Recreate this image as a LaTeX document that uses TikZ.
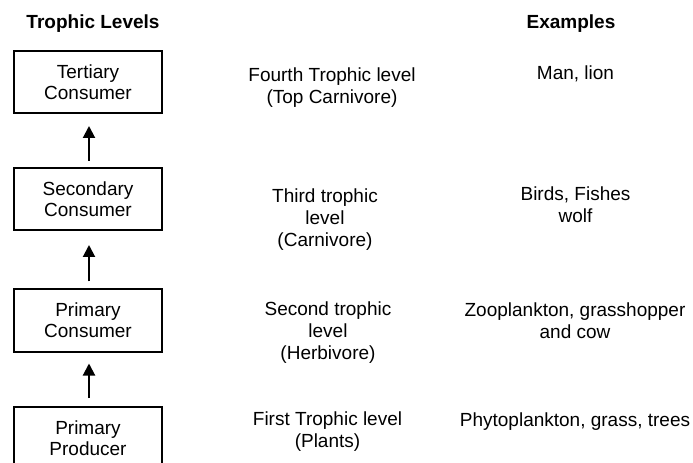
\documentclass[tikz,border=0pt]{standalone}
\usepackage{fontspec}
\setmainfont{Liberation Sans}
\usetikzlibrary{arrows.meta}
\begin{document}
\begin{tikzpicture}[x=1bp,y=-1bp,
  every node/.style={font=\fontsize{19bp}{21bp}\selectfont},
  levelbox/.style={draw=black, line width=2bp, minimum width=148bp, minimum height=62bp, inner sep=0pt, align=center, font=\fontsize{19bp}{20.8bp}\selectfont},
  coltext/.style={anchor=north, inner sep=0pt, align=center, font=\fontsize{19bp}{21.6bp}\selectfont},
  header/.style={anchor=north, inner sep=0pt, font=\fontsize{19bp}{21bp}\selectfont\bfseries},
  uparrow/.style={draw=black, line width=2bp, -{Triangle[width=12bp,length=12bp]}}
]
\useasboundingbox (0,0) rectangle (693,463);
\clip (0,0) rectangle (693,463);

\node[header] (hlev) at (93,15) {Trophic Levels};
\node[header] (hex) at (571,15) {Examples};

\node[levelbox] (b1) at (88,82) {Tertiary\\Consumer};
\node[levelbox] (b2) at (88,199) {Secondary\\Consumer};
\node[levelbox] (b3) at (88,320.5) {Primary\\Consumer};
\node[levelbox] (b4) at (88,438) {Primary\\Producer};

\draw[uparrow, shorten <=6bp, shorten >=12bp] ([xshift=1bp]b2.north) -- ([xshift=1bp]b1.south);
\draw[uparrow, shorten <=7bp, shorten >=14bp] ([xshift=1bp]b3.north) -- ([xshift=1bp]b2.south);
\draw[uparrow, shorten <=8bp, shorten >=11bp] ([xshift=1bp]b4.north) -- ([xshift=1bp]b3.south);

\node[coltext] (m1) at (332,67.5) {Fourth Trophic level\\(Top Carnivore)};
\node[coltext] (m2) at (325,189) {Third trophic\\level\\(Carnivore)};
\node[coltext] (m3) at (328,302) {Second trophic\\level\\(Herbivore)};
\node[coltext] (m4) at (327.5,412) {First Trophic level\\(Plants)};

\node[coltext] (e1) at (575.5,66) {Man, lion};
\node[coltext] (e2) at (575.5,187) {Birds, Fishes\\wolf};
\node[coltext] (e3) at (575,303) {Zooplankton, grasshopper\\and cow};
\node[coltext] (e4) at (575,413) {Phytoplankton, grass, trees};
\end{tikzpicture}
\end{document}
